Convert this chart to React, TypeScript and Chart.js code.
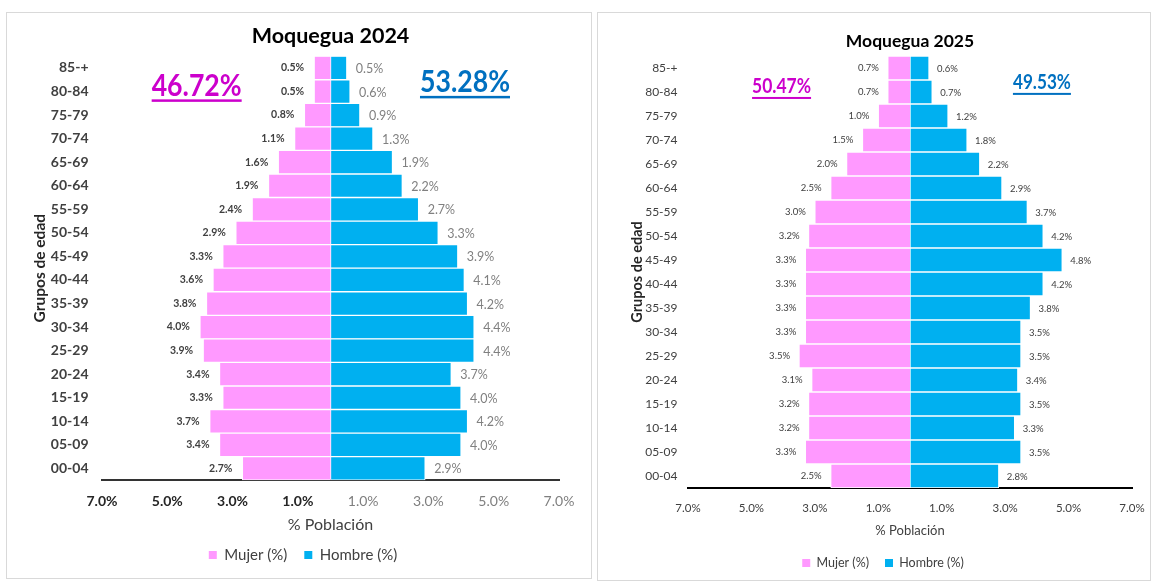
import { useEffect, useRef } from "react";
import { Chart, registerables } from "chart.js";

Chart.register(...registerables);

// ---------- data ----------
const AGE_GROUPS = ["85-+", "80-84", "75-79", "70-74", "65-69", "60-64", "55-59", "50-54", "45-49", "40-44", "35-39", "30-34", "25-29", "20-24", "15-19", "10-14", "05-09", "00-04"];
const MUJER_2024 = [0.5, 0.5, 0.8, 1.1, 1.6, 1.9, 2.4, 2.9, 3.3, 3.6, 3.8, 4.0, 3.9, 3.4, 3.3, 3.7, 3.4, 2.7];
const HOMBRE_2024 = [0.5, 0.6, 0.9, 1.3, 1.9, 2.2, 2.7, 3.3, 3.9, 4.1, 4.2, 4.4, 4.4, 3.7, 4.0, 4.2, 4.0, 2.9];
const MUJER_2025 = [0.7, 0.7, 1.0, 1.5, 2.0, 2.5, 3.0, 3.2, 3.3, 3.3, 3.3, 3.3, 3.5, 3.1, 3.2, 3.2, 3.3, 2.5];
const HOMBRE_2025 = [0.6, 0.7, 1.2, 1.8, 2.2, 2.9, 3.7, 4.2, 4.8, 4.2, 3.8, 3.5, 3.5, 3.4, 3.5, 3.3, 3.5, 2.8];
const X_TICKS = [-7, -5, -3, -1, 1, 3, 5, 7];
const SHARE_2024 = ["46.72%", "53.28%"];
const SHARE_2025 = ["50.47%", "49.53%"];
const TITLE_2024 = "Moquegua 2024";
const TITLE_2025 = "Moquegua 2025";
const SERIES_NAMES = ["Mujer (%)", "Hombre (%)"];

const FONT = "Lato, 'Liberation Sans', sans-serif";
const PINK = "#FF99FF";
const BLUE = "#00B0F0";

type Spec = {
  title: string;
  mujer: number[];
  hombre: number[];
  shares: string[];
  canvas: { x: number; y: number; w: number; h: number };
  padding: { top: number; right: number; bottom: number; left: number };
  titleFont: number;
  titlePad: { top: number; bottom: number };
  yWidth: number;
  yTickFont: number;
  yTickBold: boolean;
  yTickPad: number;
  yTitleFont: number;
  yTitlePad: number;
  xHeight: number;
  xTickFont: number;
  xTickPad: number;
  xTickStyle: (v: number) => { bold: boolean; color: string };
  xTitleFont: number;
  xTitleLH: number;
  xTitlePadBottom: number;
  legendFont: number;
  legendPad: number;
  legendDx: number;
  axisColor: string;
  fLabel: { size: number; bold: boolean; color: string; gap: number; dy: number };
  mLabel: { size: number; bold: boolean; color: string; gap: number; dy: number };
  shareStyle: { x: number; yIdx: number; size: number; width: number; color: string; uOff: number; uW: number }[];
};

const LEFT: Spec = {
  title: TITLE_2024,
  mujer: MUJER_2024,
  hombre: HOMBRE_2024,
  shares: SHARE_2024,
  canvas: { x: 7, y: 13, w: 583, h: 564 },
  padding: { top: 0, right: 31, bottom: 4.5, left: 0 },
  titleFont: 21.5,
  titlePad: { top: 10.1, bottom: 7.3 },
  yWidth: 95,
  yTickFont: 14,
  yTickBold: true,
  yTickPad: 13.5,
  yTitleFont: 15.5,
  yTitlePad: 23.7,
  xHeight: 50.3,
  xTickFont: 14,
  xTickPad: 12.4,
  xTickStyle: (v) => (v < 0 ? { bold: true, color: "#262626" } : { bold: false, color: "#7f7f7f" }),
  xTitleFont: 16,
  xTitleLH: 1,
  xTitlePadBottom: -2.5,
  legendFont: 15,
  legendPad: 17,
  legendDx: 20,
  axisColor: "#333333",
  fLabel: { size: 10.5, bold: true, color: "#404040", gap: 10, dy: 0 },
  mLabel: { size: 12.5, bold: false, color: "#808080", gap: 9, dy: 1 },
  shareStyle: [
    { x: -4.1, yIdx: 0.78, size: 30, width: 90, color: "#CC00CC", uOff: 13, uW: 2.5 },
    { x: 4.12, yIdx: 0.59, size: 30, width: 90, color: "#0070C0", uOff: 14, uW: 2.5 },
  ],
};

const RIGHT: Spec = {
  title: TITLE_2025,
  mujer: MUJER_2025,
  hombre: HOMBRE_2025,
  shares: SHARE_2025,
  canvas: { x: 598, y: 13, w: 551, h: 567 },
  padding: { top: 0, right: 17, bottom: 0.75, left: 0 },
  titleFont: 17.5,
  titlePad: { top: 17.5, bottom: 4.5 },
  yWidth: 90,
  yTickFont: 12,
  yTickBold: false,
  yTickPad: 10.5,
  yTitleFont: 14.5,
  yTitlePad: 30.3,
  xHeight: 52.75,
  xTickFont: 11.5,
  xTickPad: 13.1,
  xTickStyle: () => ({ bold: false, color: "#404040" }),
  xTitleFont: 13,
  xTitleLH: 1.2,
  xTitlePadBottom: 1.95,
  legendFont: 12.5,
  legendPad: 16,
  legendDx: 18,
  axisColor: "#000000",
  fLabel: { size: 9.5, bold: false, color: "#404040", gap: 9, dy: 0 },
  mLabel: { size: 9.5, bold: false, color: "#404040", gap: 8, dy: 1 },
  shareStyle: [
    { x: -4.05, yIdx: 0.79, size: 20, width: 59, color: "#CC00CC", uOff: 10, uW: 2 },
    { x: 4.16, yIdx: 0.6, size: 20, width: 58, color: "#0070C0", uOff: 10.5, uW: 2 },
  ],
};

function buildConfig(spec: Spec): any {
  const barLabels = {
    id: "barLabels",
    afterDatasetsDraw(chart: any) {
      const ctx = chart.ctx;
      chart.data.datasets.forEach((ds: any, i: number) => {
        const meta = chart.getDatasetMeta(i);
        const st = i === 0 ? spec.fLabel : spec.mLabel;
        ctx.save();
        ctx.font = `${st.bold ? "bold " : ""}${st.size}px ${FONT}`;
        ctx.fillStyle = st.color;
        ctx.textBaseline = "middle";
        meta.data.forEach((bar: any, j: number) => {
          const raw = ds.data[j] as number;
          const neg = raw < 0;
          ctx.textAlign = neg ? "right" : "left";
          ctx.fillText(Math.abs(raw).toFixed(1) + "%", bar.x + (neg ? -st.gap : st.gap), bar.y + st.dy);
        });
        ctx.restore();
      });
    },
  };

  const shares = {
    id: "shares",
    afterDraw(chart: any) {
      const ctx = chart.ctx;
      const xs = chart.scales.x;
      const ys = chart.scales.y;
      spec.shares.forEach((text, i) => {
        const s = spec.shareStyle[i];
        const cx = xs.getPixelForValue(s.x);
        const cy = ys.getPixelForValue(s.yIdx);
        ctx.save();
        ctx.font = `bold ${s.size}px ${FONT}`;
        const w = ctx.measureText(text).width;
        ctx.translate(cx, cy);
        ctx.scale(s.width / w, 1);
        ctx.fillStyle = s.color;
        ctx.textAlign = "center";
        ctx.textBaseline = "middle";
        ctx.fillText(text, 0, 0);
        ctx.restore();
        ctx.save();
        ctx.fillStyle = s.color;
        ctx.fillRect(cx - s.width / 2, cy + s.uOff, s.width, s.uW);
        ctx.restore();
      });
    },
  };

  const legendShift = {
    id: "legendShift",
    afterLayout(chart: any) {
      const lg = chart.legend;
      if (lg) {
        lg.left += spec.legendDx;
        lg.right += spec.legendDx;
      }
    },
  };

  return {
    type: "bar",
    data: {
      labels: AGE_GROUPS,
      datasets: [
        {
          label: SERIES_NAMES[0],
          data: spec.mujer.map((v) => -v),
          backgroundColor: PINK,
          borderColor: "#ffffff",
          borderWidth: 1,
          borderSkipped: "start",
          barPercentage: 1,
          categoryPercentage: 1,
        },
        {
          label: SERIES_NAMES[1],
          data: spec.hombre,
          backgroundColor: BLUE,
          borderColor: "#ffffff",
          borderWidth: 1,
          borderSkipped: false,
          barPercentage: 1,
          categoryPercentage: 1,
        },
      ],
    },
    options: {
      indexAxis: "y",
      responsive: false,
      animation: false,
      devicePixelRatio: 1,
      layout: { padding: spec.padding },
      scales: {
        x: {
          type: "linear",
          stacked: true,
          min: -7,
          max: 7,
          z: 1,
          afterBuildTicks: (scale: any) => {
            scale.ticks = X_TICKS.map((v) => ({ value: v }));
          },
          afterFit: (scale: any) => {
            scale.height = spec.xHeight;
            scale.paddingLeft = 0;
            scale.paddingRight = 0;
          },
          grid: { display: false, drawTicks: false },
          border: { display: true, color: spec.axisColor, width: 2 },
          ticks: {
            autoSkip: false,
            maxRotation: 0,
            padding: spec.xTickPad,
            callback: (v: any) => Math.abs(Number(v)).toFixed(1) + "%",
            color: (c: any) => spec.xTickStyle(c.tick ? c.tick.value : 0).color,
            font: (c: any) => ({
              family: FONT,
              size: spec.xTickFont,
              weight: spec.xTickStyle(c.tick ? c.tick.value : 0).bold ? "bold" : "normal",
            }),
          },
          title: {
            display: true,
            text: "% Población",
            color: "#404040",
            font: { family: FONT, size: spec.xTitleFont, lineHeight: spec.xTitleLH },
            padding: { top: 0, bottom: spec.xTitlePadBottom },
          },
        },
        y: {
          type: "category",
          stacked: true,
          afterFit: (scale: any) => {
            scale.width = spec.yWidth;
          },
          grid: { display: false, drawTicks: false },
          border: { display: false },
          ticks: {
            autoSkip: false,
            padding: spec.yTickPad,
            color: "#404040",
            font: { family: FONT, size: spec.yTickFont, weight: spec.yTickBold ? "bold" : "normal" },
          },
          title: {
            display: true,
            text: "Grupos de edad",
            color: "#262626",
            font: { family: FONT, size: spec.yTitleFont, weight: "bold" },
            padding: { top: spec.yTitlePad, bottom: 0 },
          },
        },
      },
      plugins: {
        title: {
          display: true,
          text: spec.title,
          fullSize: false,
          color: "#000000",
          font: { family: FONT, size: spec.titleFont, weight: "bold" },
          padding: spec.titlePad,
        },
        legend: {
          display: true,
          position: "bottom",
          labels: {
            boxWidth: 8,
            boxHeight: 8,
            padding: spec.legendPad,
            color: "#404040",
            font: { family: FONT, size: spec.legendFont },
            generateLabels: (chart: any) =>
              Chart.defaults.plugins.legend.labels
                .generateLabels(chart)
                .map((l: any) => ({ ...l, lineWidth: 0, strokeStyle: l.fillStyle })),
          },
        },
        tooltip: { enabled: false },
      },
    },
    plugins: [barLabels, shares, legendShift],
  };
}

function Pyramid({ spec }: { spec: Spec }) {
  const ref = useRef<HTMLCanvasElement | null>(null);
  useEffect(() => {
    if (!ref.current) return;
    const chart = new Chart(ref.current, buildConfig(spec));
    return () => chart.destroy();
  }, [spec]);
  const c = spec.canvas;
  return (
    <canvas
      ref={ref}
      width={c.w}
      height={c.h}
      style={{ position: "absolute", left: c.x, top: c.y, width: c.w, height: c.h }}
    />
  );
}

export default function App() {
  return (
    <div
      style={{
        position: "fixed",
        left: 0,
        top: 0,
        width: 1153,
        height: 581,
        background: "#ffffff",
        overflow: "hidden",
      }}
    >
      <div
        style={{
          position: "absolute",
          left: 6,
          top: 12,
          width: 586,
          height: 567,
          border: "1px solid #d9d9d9",
          boxSizing: "border-box",
        }}
      />
      <div
        style={{
          position: "absolute",
          left: 597,
          top: 12,
          width: 554,
          height: 569,
          border: "1px solid #d9d9d9",
          boxSizing: "border-box",
        }}
      />
      <Pyramid spec={LEFT} />
      <Pyramid spec={RIGHT} />
    </div>
  );
}
